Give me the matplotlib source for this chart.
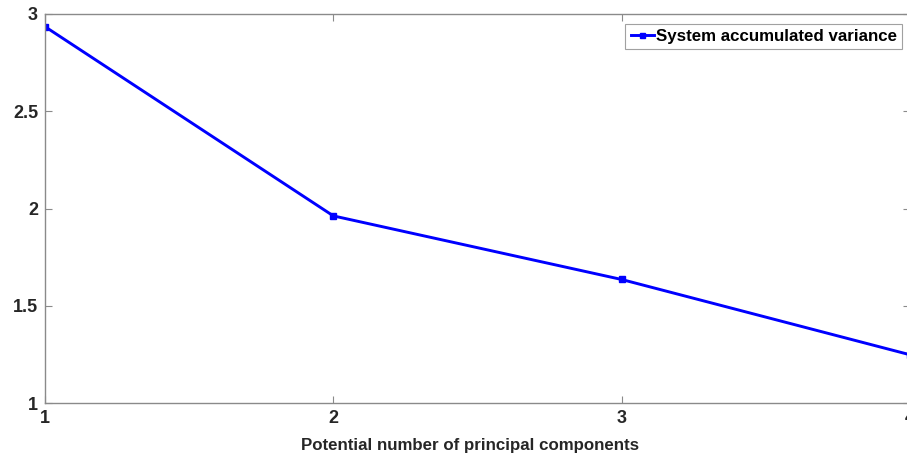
import matplotlib.pyplot as plt

# dados
componentes = [1, 2, 3, 4]
variancia = [2.935, 1.962, 1.635, 1.248]
xticks = [1, 2, 3, 4]
yticks = [1, 1.5, 2, 2.5, 3]
ytick_labels = ['1', '1.5', '2', '2.5', '3']

plt.rcParams['font.family'] = ['Liberation Sans', 'DejaVu Sans']
plt.rcParams['font.weight'] = 'bold'

fig = plt.figure(figsize=(9.07, 4.58), dpi=100)
W, H = 907, 458
ax = fig.add_axes([45 / W, 1 - 403 / H, (910 - 45) / W, (403 - 14) / H])

ax.plot(componentes, variancia, color='#0000ff', linewidth=2.1,
        marker='s', markersize=4.5, label='System accumulated variance')

ax.set_xlim(1, 4)
ax.set_ylim(1, 3)
ax.set_xticks(xticks)
ax.set_yticks(yticks)
ax.set_yticklabels(ytick_labels)

for s in ax.spines.values():
    s.set_color('#8a8a8a')
    s.set_linewidth(1.0)
ax.tick_params(direction='in', length=5, width=0.8, color='#8a8a8a',
               top=True, right=True, labelsize=13, labelcolor='#262626', pad=5)
for lab in ax.get_xticklabels() + ax.get_yticklabels():
    lab.set_fontweight('bold')

ax.set_xlabel('Potential number of principal components', fontsize=12.2,
              fontweight='bold', color='#262626', labelpad=8)
ax.xaxis.label.set_x((470 - 45) / 865)

leg = ax.legend(loc='upper right', bbox_to_anchor=((902 - 45) / 865, 1 - 10 / 389),
                prop={'size': 12.2, 'weight': 'bold'}, frameon=True, fancybox=False,
                borderpad=0.3, handlelength=1.4, handletextpad=0.1, borderaxespad=0,
                markerscale=0.8)
leg.get_frame().set_edgecolor('#8a8a8a')
leg.get_frame().set_linewidth(0.8)

plt.savefig('out.png', dpi=100)
